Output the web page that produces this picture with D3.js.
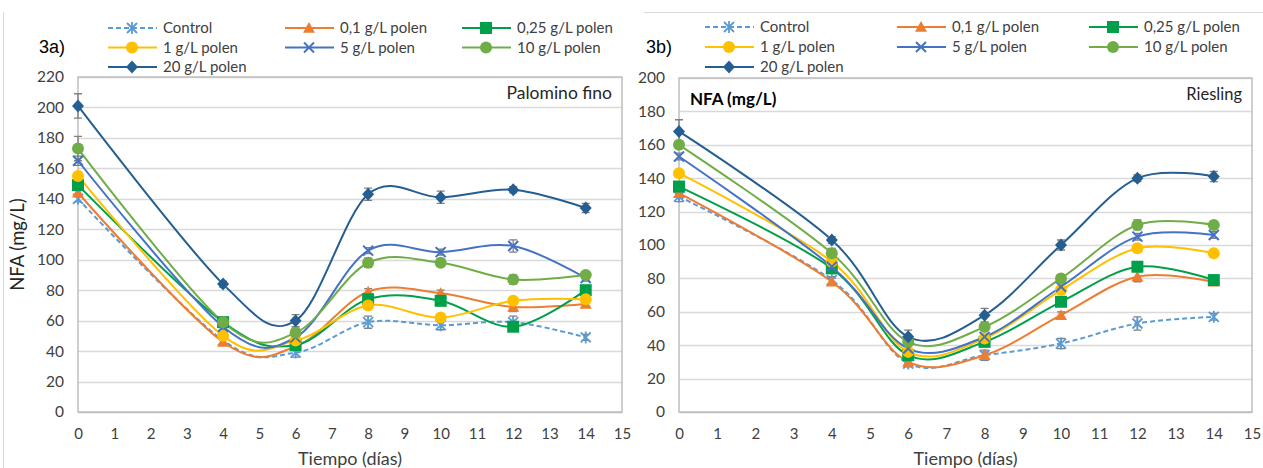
<!DOCTYPE html>
<html><head><meta charset="utf-8">
<script src="https://cdn.jsdelivr.net/npm/d3@7"></script>
<style>
body{margin:0;background:#fff;}
svg{display:block;font-family:Lato,"Open Sans",sans-serif;}
</style></head><body>
<svg id="c" width="1263" height="468"></svg>
<script>
const days = [0,4,6,8,10,12,14];
const seriesNames = ["Control","0,1 g/L polen","0,25 g/L polen","1 g/L polen","5 g/L polen","10 g/L polen","20 g/L polen"];
const seriesColors = ["#5B9BD5","#ED7D31","#00A04A","#FFC000","#4472C4","#70AD47","#255E91"];
const seriesMarkers = ["star","triangle","square","circle","x","circle","diamond"];

// Palomino fino (3a)
const palControl = [140,47,39,59,57,59,49];
const palP01     = [144,46,43,79,78,69,71];
const palP025    = [149,59,44,74,73,56,80];
const palP1      = [155,50,47,70,62,73,74];
const palP5      = [165,56,49,106,105,109,88];
const palP10     = [173,59,52,98,98,87,90];
const palP20     = [201,84,60,143,141,146,134];
const palErr     = [[2,2,3,4,3,4,2],[2,2,2,2,2,3,2],[2,3,2,3,2,2,2],[2,2,2,2,2,2,2],[3,2,2,2,2,4,2],[8,3,3,3,2,3,2],[8,2,4,4,4,2,3]];

// Riesling (3b)
const rieControl = [129,79,29,34,41,53,57];
const rieP01     = [131,78,30,34,58,81,78];
const rieP025    = [135,86,34,42,66,87,79];
const rieP1      = [143,90,36,44,73,98,95];
const rieP5      = [153,87,38,45,75,105,106];
const rieP10     = [160,95,42,51,80,112,112];
const rieP20     = [168,103,45,58,100,140,141];
const rieErr     = [[3,2,2,3,3,4,2],[2,2,2,2,2,3,2],[2,2,2,2,2,2,2],[2,2,2,2,2,2,2],[2,2,2,2,2,2,2],[2,3,2,2,2,3,2],[7,2,4,4,3,2,3]];

const palYTicks = d3.range(0,221,20);
const rieYTicks = d3.range(0,201,20);
const xTicks = d3.range(0,16,1);

const svg = d3.select("#c");

// outer frames
svg.append("line").attr("x1",3.5).attr("x2",3.5).attr("y1",12).attr("y2",468).attr("stroke","#d9d9d9");
svg.append("line").attr("x1",644).attr("x2",1263).attr("y1",12.5).attr("y2",12.5).attr("stroke","#d9d9d9");

function markerPath(type){
  const s=6;
  if(type==="triangle") return `M0,${-s}L${s},${s*0.8}L${-s},${s*0.8}Z`;
  if(type==="square") return `M${-s},${-s}H${s}V${s}H${-s}Z`;
  if(type==="diamond") return `M0,${-s-0.5}L${s},0L0,${s+0.5}L${-s},0Z`;
  return null;
}
function drawMarker(g,type,color,x,y){
  if(type==="circle"){
    g.append("circle").attr("cx",x).attr("cy",y).attr("r",6).attr("fill",color);
  } else if(type==="x"){
    const s=5;
    g.append("path").attr("d",`M${x-s},${y-s}L${x+s},${y+s}M${x-s},${y+s}L${x+s},${y-s}`).attr("stroke",color).attr("stroke-width",2);
  } else if(type==="star"){
    const s=5;
    g.append("path").attr("d",`M${x-s},${y-s}L${x+s},${y+s}M${x-s},${y+s}L${x+s},${y-s}M${x},${y-s-1}L${x},${y+s+1}`).attr("stroke",color).attr("stroke-width",1.8);
  } else {
    g.append("path").attr("transform",`translate(${x},${y})`).attr("d",markerPath(type)).attr("fill",color);
  }
}

function chart(opt){
  const {x0,x1,y0,y1,yMax,yTicks,data,errs,label,variety,legX,legY,legDX,legDY,yTitleInside} = opt;
  const x = d3.scaleLinear().domain([0,15]).range([x0,x1]);
  const y = d3.scaleLinear().domain([0,yMax]).range([y1,y0]);
  const g = svg.append("g");
  // gridlines
  g.selectAll(".grid").data(yTicks.slice(1)).join("line")
    .attr("x1",x0).attr("x2",x1).attr("y1",d=>Math.round(y(d))+0.5).attr("y2",d=>Math.round(y(d))+0.5)
    .attr("stroke","#d9d9d9").attr("stroke-width",1.5);
  // plot border
  g.append("rect").attr("x",x0).attr("y",y0).attr("width",x1-x0).attr("height",y1-y0)
    .attr("fill","none").attr("stroke","#bfbfbf").attr("stroke-width",1.5);
  // axes
  const ax = g.append("g").attr("transform",`translate(0,${y1})`)
    .call(d3.axisBottom(x).tickValues(xTicks).tickSize(0).tickPadding(16));
  ax.select(".domain").attr("stroke","#bfbfbf").attr("stroke-width",1.5);
  ax.selectAll("text").attr("font-size",15).attr("fill","#404040").attr("font-family","Lato,sans-serif");
  const ay = g.append("g").attr("transform",`translate(${x0},0)`)
    .call(d3.axisLeft(y).tickValues(yTicks).tickSize(0).tickPadding(14));
  ay.select(".domain").remove();
  ay.selectAll("text").attr("font-size",15.5).attr("fill","#404040").attr("font-family","Lato,sans-serif");
  // series
  const line = d3.line().x(d=>x(d[0])).y(d=>y(d[1])).curve(d3.curveCardinal.tension(0));
  data.forEach((vals,i)=>{
    const pts = days.map((d,j)=>[d,vals[j]]);
    g.append("path").attr("d",line(pts)).attr("fill","none").attr("stroke",seriesColors[i])
      .attr("stroke-width",2).attr("stroke-dasharray",i===0?"5,3":null);
  });
  // error bars
  data.forEach((vals,i)=>{
    days.forEach((d,j)=>{
      const e = errs[i][j], cx = x(d);
      const ya=y(vals[j]+e), yb=y(vals[j]-e);
      g.append("path").attr("d",`M${cx},${ya}V${yb}M${cx-4},${ya}H${cx+4}M${cx-4},${yb}H${cx+4}`)
        .attr("stroke","#7f7f7f").attr("stroke-width",1.3).attr("fill","none");
    });
  });
  data.forEach((vals,i)=>{
    days.forEach((d,j)=>drawMarker(g,seriesMarkers[i],seriesColors[i],x(d),y(vals[j])));
  });
  // variety label
  g.append("text").attr("x",x1-10).attr("y",y0+22).attr("text-anchor","end")
    .attr("font-size",opt.varSize).attr("fill","#262626").attr("font-family","Lato,sans-serif").text(variety);
  // panel label
  g.append("text").attr("x",opt.panelX).attr("y",53).attr("font-size",18).attr("fill","#000")
    .attr("font-family","Liberation Sans,Arial,sans-serif").text(label);
  // axis titles
  g.append("text").attr("x",(x0+x1)/2).attr("y",465).attr("text-anchor","middle")
    .attr("font-size",18).attr("fill","#404040").attr("font-family","Lato,sans-serif").text("Tiempo (días)");
  if(yTitleInside){
    g.append("text").attr("x",x0+11).attr("y",y0+27).attr("font-size",17).attr("font-weight","bold")
      .attr("fill","#000").attr("font-family","Lato,sans-serif").text("NFA (mg/L)");
  } else {
    g.append("text").attr("transform",`translate(${opt.yTitleX},${(y0+y1)/2}) rotate(-90)`).attr("text-anchor","middle")
      .attr("font-size",18.5).attr("fill","#262626").attr("font-family","Lato,sans-serif").text("NFA (mg/L)");
  }
  // legend
  seriesNames.forEach((n,i)=>{
    const col=i%3, row=Math.floor(i/3);
    const lx = legX + col*legDX, ly = legY + row*legDY;
    const lg = g.append("g");
    lg.append("line").attr("x1",lx).attr("x2",lx+49).attr("y1",ly).attr("y2",ly)
      .attr("stroke",seriesColors[i]).attr("stroke-width",2).attr("stroke-dasharray",i===0?"5,3":null);
    drawMarker(lg,seriesMarkers[i],seriesColors[i],lx+24,ly);
    lg.append("text").attr("x",lx+55).attr("y",ly+5).attr("font-size",15).attr("fill","#404040")
      .attr("font-family","Lato,sans-serif").text(n);
  });
}

chart({x0:78,x1:622,y0:77,y1:412,yMax:220,yTicks:palYTicks,
  data:[palControl,palP01,palP025,palP1,palP5,palP10,palP20],errs:palErr,
  label:"3a)",panelX:39,variety:"Palomino fino",varSize:17.5,legX:108,legY:28,legDX:177,legDY:19.5,
  yTitleInside:false,yTitleX:24});
chart({x0:679,x1:1252,y0:78,y1:412,yMax:200,yTicks:rieYTicks,
  data:[rieControl,rieP01,rieP025,rieP1,rieP5,rieP10,rieP20],errs:rieErr,
  label:"3b)",panelX:646,variety:"Riesling",varSize:16.5,legX:705,legY:27,legDX:192,legDY:20,
  yTitleInside:true});
</script>
</body></html>
